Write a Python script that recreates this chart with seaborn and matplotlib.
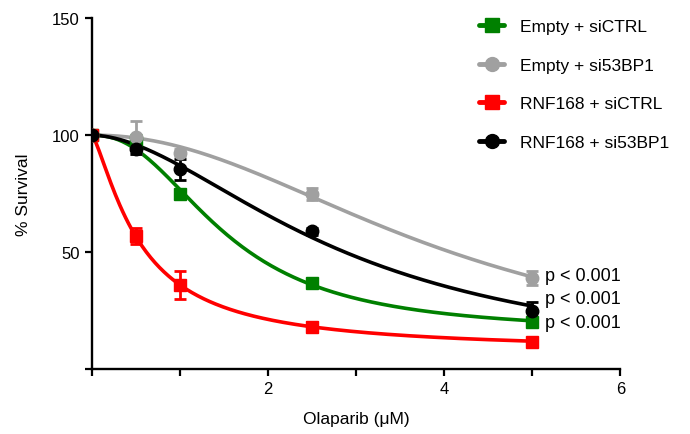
import matplotlib
matplotlib.use("Agg")
import matplotlib.pyplot as plt
import seaborn as sns
import numpy as np

# olaparib doses (uM) and % survival for each condition
dose = [0, 0.5, 1, 2.5, 5]
labels = ["Empty + siCTRL", "Empty + si53BP1", "RNF168 + siCTRL", "RNF168 + si53BP1"]
empty_ctrl = [100, 97, 75, 37, 20]
empty_53bp1 = [100, 99, 92.5, 75, 39]
rnf_ctrl = [100, 57, 36, 18, 11.5]
rnf_53bp1 = [100, 94, 85.5, 59, 25]
err_empty_ctrl = [0, 3, 2, 1.5, 1.5]
err_empty_53bp1 = [0, 7, 1.5, 2.5, 3]
err_rnf_ctrl = [0, 3.5, 6, 2, 1.5]
err_rnf_53bp1 = [0, 2, 4.5, 1.5, 3.5]
pvals = ["p < 0.001", "p < 0.001", "p < 0.001"]


def fit_curve(x, y):
    # dose-response fit (top fixed at 100), brute force least squares
    x = np.asarray(x, float)[:, None, None, None]
    y = np.asarray(y, float)[:, None, None, None]
    bot = np.arange(0, 40, 0.5)[None, :, None, None]
    ic = np.arange(0.1, 8, 0.025)[None, None, :, None]
    h = np.arange(0.5, 4, 0.05)[None, None, None, :]
    pred = bot + (100 - bot) / (1 + (x / ic) ** h)
    sse = ((pred - y) ** 2).sum(axis=0)
    i, j, k = np.unravel_index(np.argmin(sse), sse.shape)
    b, c, hh = bot[0, i, 0, 0], ic[0, 0, j, 0], h[0, 0, 0, k]
    xs = np.linspace(0, max(dose), 300)
    return xs, b + (100 - b) / (1 + (xs / c) ** hh)


sns.set_style("ticks", {"axes.edgecolor": "black", "xtick.color": "black",
                        "ytick.color": "black", "text.color": "black",
                        "axes.labelcolor": "black"})
plt.rcParams["font.family"] = ["Liberation Sans", "DejaVu Sans"]

fig = plt.figure(figsize=(6.9, 4.35), dpi=100)
ax = fig.add_axes([0.133, 0.149, 0.766, 0.807])

series = [
    (empty_ctrl, err_empty_ctrl, "#008000", "s"),
    (empty_53bp1, err_empty_53bp1, "#A0A0A0", "o"),
    (rnf_ctrl, err_rnf_ctrl, "#FF0000", "s"),
    (rnf_53bp1, err_rnf_53bp1, "#000000", "o"),
]

handles = []
for (vals, err, col, mk), lab in zip(series, labels):
    xs, ys = fit_curve(dose, vals)
    sns.lineplot(x=xs, y=ys, color=col, lw=2.6, ax=ax)
    ax.errorbar(dose, vals, yerr=err, fmt=mk, color=col, ms=9, capsize=4.5,
                elinewidth=2, capthick=2, zorder=5)
    h, = ax.plot([], [], color=col, marker=mk, ms=10, lw=3.5)
    handles.append(h)

for txt, y in zip(pvals, [empty_53bp1[-1] + 1, rnf_53bp1[-1] + 5, empty_ctrl[-1]]):
    ax.text(5.15, y, txt, fontsize=13, va="center", ha="left")

ax.set_xlim(0, 6)
ax.set_ylim(0, 150)
ax.set_xticks(range(7))
ax.set_xticklabels(["", "", "2", "", "4", "", "6"])
ax.set_yticks([0, 50, 100, 150])
ax.set_yticklabels(["", "50", "100", "150"])
ax.tick_params(width=1.6, length=5, labelsize=12)
for s in ["left", "bottom"]:
    ax.spines[s].set_linewidth(1.7)
sns.despine(ax=ax)
ax.set_xlabel("Olaparib (\u03bcM)", fontsize=12.5, labelpad=11)
ax.set_ylabel("% Survival", fontsize=12.5, labelpad=15)

fig.legend(handles, labels, loc="upper left", bbox_to_anchor=(0.672, 0.99),
           frameon=False, fontsize=12.5, labelspacing=1.35, handlelength=1.45,
           handletextpad=0.9)

fig.savefig("out.png", dpi=100)
